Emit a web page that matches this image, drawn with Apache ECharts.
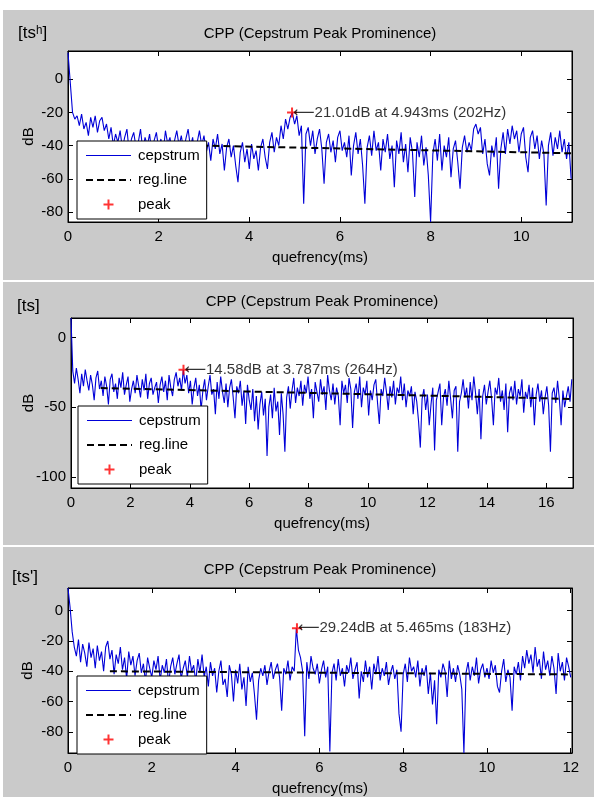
<!DOCTYPE html>
<html>
<head>
<meta charset="utf-8">
<script src="https://cdn.jsdelivr.net/npm/echarts@6/dist/echarts.min.js"></script>
<style>html,body{margin:0;padding:0;background:#fff}#c{width:594px;height:797px}</style>
</head>
<body>
<div id="c"></div>
<script>
// ---------------- DATA ----------------
const panelLabels = ['[ts\u02B0]', '[ts]', "[ts']"];
const chartTitle = 'CPP (Cepstrum Peak Prominence)';
const seriesNames = ['cepstrum', 'reg.line', 'peak'];

// Panel 1 [tsʰ]
const p1Step = 0.05;
const p1Cep = [16,-2,-20,-24,-22,-28,-21,-30,-26,-34,
-23,-29,-22,-32,-25,-23,-31,-27,-36,-29,
-40,-33,-38,-31,-42,-35,-30,-44,-36,-32,
-41,-38,-30,-43,-35,-40,-33,-45,-37,-32,
-42,-36,-44,-31,-39,-35,-46,-37,-31,-40,
-34,-43,-36,-30,-41,-35,-47,-38,-31,-40,
-34,-44,-38,-49,-36,-42,-33,-45,-39,-55,
-41,-36,-47,-40,-52,-62,-44,-38,-50,-42,
-54,-39,-48,-43,-55,-41,-36,-47,-54,-38,
-32,-44,-35,-40,-28,-36,-24,-30,-23,-20.1,
-27,-22,-34,-28,-75,-33,-29,-40,-31,-45,
-36,-30,-42,-63,-38,-33,-44,-37,-50,-35,
-31,-43,-38,-47,-34,-58,-40,-32,-45,-36,
-52,-75,-41,-34,-46,-31,-43,-38,-55,-36,
-44,-33,-48,-40,-65,-37,-45,-32,-50,-39,
-56,-35,-44,-71,-38,-47,-34,-52,-41,-58,
-86,-45,-36,-49,-33,-55,-40,-47,-35,-59,
-42,-37,-50,-66,-41,-34,-44,-38,-43,-30,
-27,-33,-29,-45,-36,-51,-58,-40,-47,-35,
-66,-42,-32,-45,-30,-39,-28,-36,-31,-44,
-33,-29,-47,-56,-35,-31,-42,-34,-48,-37,
-45,-76,-40,-32,-46,-35,-42,-31,-44,-36,
-48,-38,-60];
const p1Reg = [[1.0, -38.9], [11.1, -44.6]];
const p1Peak = [4.943, -20.1];
const p1Note = '\u27F521.01dB at 4.943ms (202Hz)';
const p1XTicks = [0, 2, 4, 6, 8, 10];
const p1YTicks = [-80, -60, -40, -20, 0];
const p1Range = {xmax: 11.12, ymin: -86, ymax: 17};

// Panel 2 [ts]
const p2Step = 0.06;
const p2Cep = [14,-24,-33,-22,-30,-40,-26,-35,-23,-31,
-38,-27,-34,-45,-29,-24,-37,-31,-42,-28,
-35,-48,-30,-26,-39,-33,-44,-29,-36,-25,
-41,-34,-28,-46,-37,-31,-40,-27,-35,-43,
-30,-38,-26,-44,-33,-29,-41,-36,-32,-47,
-34,-28,-39,-31,-45,-27,-36,-42,-30,-25,
-35,-29,-38,-23.1,-33,-27,-40,-31,-48,-36,
-29,-42,-34,-52,-38,-30,-45,-35,-27,-41,
-37,-55,-32,-44,-28,-39,-47,-33,-50,-36,
-30,-43,-58,-35,-40,-31,-49,-38,-62,-34,
-45,-52,-37,-60,-42,-66,-48,-39,-56,-44,
-85,-50,-41,-58,-36,-53,-46,-70,-40,-55,
-82,-43,-35,-51,-38,-29,-47,-36,-42,-31,
-49,-34,-40,-28,-44,-37,-58,-32,-39,-46,
-30,-41,-35,-52,-27,-38,-45,-33,-48,-36,
-42,-63,-31,-40,-34,-47,-29,-37,-65,-39,
-33,-44,-28,-50,-36,-41,-31,-56,-38,-45,
-34,-30,-47,-62,-37,-42,-29,-39,-52,-35,
-43,-31,-48,-36,-40,-28,-45,-33,-50,-38,
-42,-35,-55,-39,-46,-60,-79,-44,-37,-52,
-41,-63,-48,-36,-81,-45,-39,-33,-63,-43,
-37,-49,-31,-44,-58,-38,-35,-82,-46,-40,
-30,-43,-36,-51,-32,-45,-28,-40,-55,-37,
-73,-42,-34,-48,-39,-31,-44,-63,-36,-41,
-29,-46,-38,-52,-33,-68,-40,-35,-45,-31,
-48,-37,-42,-30,-54,-39,-44,-34,-50,-36,
-63,-41,-33,-46,-38,-55,-43,-35,-49,-82,
-40,-36,-47,-31,-44,-63,-38,-50,-42,-35,
-46,-30];
const p2Reg = [[1.0, -36.3], [16.9, -44.1]];
const p2Peak = [3.787, -23.1];
const p2Note = '\u27F514.58dB at 3.787ms (264Hz)';
const p2XTicks = [0, 2, 4, 6, 8, 10, 12, 14, 16];
const p2YTicks = [-100, -50, 0];
const p2Range = {xmax: 16.9, ymin: -108, ymax: 14};

// Panel 3 [ts']
const p3Step = 0.05;
const p3Cep = [15,2,-14,-24,-30,-19,-34,-22,-28,-37,
-21,-31,-25,-38,-23,-33,-27,-40,-24,-20,
-32,-26,-42,-29,-35,-24,-39,-31,-45,-27,
-36,-30,-43,-33,-28,-41,-35,-47,-31,-38,
-44,-33,-39,-30,-46,-36,-41,-32,-48,-37,
-31,-42,-35,-29,-45,-38,-33,-44,-30,-40,
-36,-47,-32,-41,-29,-44,-37,-50,-34,-43,
-38,-54,-40,-33,-49,-45,-57,-36,-42,-60,
-39,-48,-35,-52,-44,-63,-37,-47,-41,-55,
-72,-46,-38,-43,-36,-49,-40,-34,-45,-39,
-35,-44,-66,-38,-42,-33,-46,-37,-40,-11.6,
-26,-31,-40,-83,-34,-45,-30,-38,-42,-35,
-48,-39,-33,-44,-37,-93,-41,-35,-46,-32,
-43,-38,-50,-36,-41,-31,-45,-39,-34,-58,
-40,-47,-33,-44,-37,-52,-35,-42,-30,-46,
-38,-43,-34,-49,-41,-36,-45,-39,-68,-80,
-42,-35,-47,-31,-40,-37,-44,-33,-50,-38,
-43,-36,-55,-41,-62,-46,-75,-39,-44,-35,
-40,-57,-33,-45,-38,-47,-36,-42,-52,-94,
-41,-34,-46,-37,-43,-31,-48,-39,-35,-44,
-38,-45,-33,-41,-36,-50,-54,-40,-32,-47,
-39,-44,-66,-37,-42,-34,-46,-30,-38,-26,
-35,-29,-41,-24,-37,-32,-45,-27,-39,-33,
-43,-30,-38,-55,-28,-40,-34,-46,-31,-37,
-44];
const p3Reg = [[1.0, -40.0], [12.03, -42.1]];
const p3Peak = [5.465, -11.6];
const p3Note = '\u27F529.24dB at 5.465ms (183Hz)';
const p3XTicks = [0, 2, 4, 6, 8, 10, 12];
const p3YTicks = [-80, -60, -40, -20, 0];
const p3Range = {xmax: 12.03, ymin: -94, ymax: 15};

// ---------------- BUILD ----------------
const FONT = '"Liberation Sans", Arial, Helvetica, "DejaVu Sans", sans-serif';
const PLUS = 'path://M4,0H6V4H10V6H6V10H4V6H0V4H4Z';

const panels = [
  {cep: p1Cep, step: p1Step, reg: p1Reg, peak: p1Peak, note: p1Note, xt: p1XTicks, yt: p1YTicks, r: p1Range,
   grid: {left: 68, top: 51, width: 504, height: 171}, legend: {left: 77, top: 141}, yGap: 32,
   title: {x: 320, y: 34}, label: {x: 18, y: 33}},
  {cep: p2Cep, step: p2Step, reg: p2Reg, peak: p2Peak, note: p2Note, xt: p2XTicks, yt: p2YTicks, r: p2Range,
   grid: {left: 71, top: 318, width: 502, height: 170}, legend: {left: 78, top: 406}, yGap: 35,
   title: {x: 322, y: 302}, label: {x: 17, y: 306}},
  {cep: p3Cep, step: p3Step, reg: p3Reg, peak: p3Peak, note: p3Note, xt: p3XTicks, yt: p3YTicks, r: p3Range,
   grid: {left: 68, top: 588, width: 504, height: 169}, legend: {left: 77, top: 676}, yGap: 33,
   title: {x: 320, y: 570}, label: {x: 12, y: 577}}
];

const grids = [], xAxes = [], yAxes = [], series = [], legends = [];
const graphics = [
  {type: 'rect', shape: {x: 0, y: 0, width: 594, height: 10}, style: {fill: '#fff'}, silent: true},
  {type: 'rect', shape: {x: 0, y: 0, width: 3, height: 797}, style: {fill: '#fff'}, silent: true},
  {type: 'rect', shape: {x: 0, y: 280, width: 594, height: 2}, style: {fill: '#fff'}, silent: true},
  {type: 'rect', shape: {x: 0, y: 545, width: 594, height: 2}, style: {fill: '#fff'}, silent: true}
];

const txt = {color: '#000', fontSize: 15, fontFamily: FONT};
const BLUE = '#0000d8';

panels.forEach((p, g) => {
  grids.push(Object.assign({show: true, backgroundColor: '#fff', borderColor: '#000', borderWidth: 1, containLabel: false}, p.grid));
  const axLine = {show: true, onZero: false, lineStyle: {color: '#000', width: 1}};
  const tick = (vals) => ({show: true, inside: true, length: 5, customValues: vals, lineStyle: {color: '#000', width: 1}});
  xAxes.push({type: 'value', gridIndex: g, position: 'bottom', min: 0, max: p.r.xmax,
    axisLine: axLine, axisTick: tick(p.xt), splitLine: {show: false},
    axisLabel: Object.assign({show: true, customValues: p.xt, margin: 7}, txt),
    name: 'quefrency(ms)', nameLocation: 'middle', nameGap: 28, nameMoveOverlap: false, nameTextStyle: txt});
  xAxes.push({type: 'value', gridIndex: g, position: 'top', min: 0, max: p.r.xmax,
    axisLine: axLine, axisTick: tick(p.xt), splitLine: {show: false}, axisLabel: {show: false}});
  yAxes.push({type: 'value', gridIndex: g, position: 'left', min: p.r.ymin, max: p.r.ymax,
    axisLine: axLine, axisTick: tick(p.yt), splitLine: {show: false},
    axisLabel: Object.assign({show: true, customValues: p.yt, margin: 5}, txt),
    name: 'dB', nameLocation: 'middle', nameGap: p.yGap, nameRotate: 90, nameMoveOverlap: false, nameTextStyle: txt});
  yAxes.push({type: 'value', gridIndex: g, position: 'right', min: p.r.ymin, max: p.r.ymax,
    axisLine: axLine, axisTick: tick(p.yt), splitLine: {show: false}, axisLabel: {show: false}});

  series.push({name: 'cepstrum', type: 'line', xAxisIndex: 2 * g, yAxisIndex: 2 * g,
    data: p.cep.map((v, i) => [i * p.step, v]), symbol: 'none', showSymbol: false,
    lineStyle: {color: BLUE, width: 1.1}, itemStyle: {color: BLUE}, animation: false, z: 2});
  series.push({name: 'reg.line', type: 'line', xAxisIndex: 2 * g, yAxisIndex: 2 * g,
    data: p.reg, symbol: 'none', showSymbol: false,
    lineStyle: {color: '#000', width: 2, type: [7, 4]}, itemStyle: {color: '#000'}, animation: false, z: 3});
  series.push({name: 'peak', type: 'scatter', xAxisIndex: 2 * g, yAxisIndex: 2 * g,
    data: [p.peak], symbol: PLUS, symbolSize: 10, itemStyle: {color: '#ff0000'}, animation: false, z: 4,
    label: Object.assign({show: true, position: 'right', distance: -4, formatter: p.note}, txt)});

  legends.push({left: p.legend.left, top: p.legend.top, orient: 'vertical', selectedMode: false,
    padding: [7, 7, 7, 8], itemWidth: 45, itemHeight: 10, itemGap: 9.5,
    backgroundColor: '#fff', borderColor: '#000', borderWidth: 1, borderRadius: 0, z: 10,
    textStyle: Object.assign({lineHeight: 14, padding: [0, 0, 0, 2]}, txt),
    data: [
      {name: seriesNames[0], lineStyle: {width: 1, color: BLUE}, itemStyle: {opacity: 0}},
      {name: seriesNames[1], lineStyle: {width: 2, type: [7, 4], color: '#000'}, itemStyle: {opacity: 0}},
      {name: seriesNames[2], icon: PLUS, itemStyle: {color: '#ff0000'}}
    ]});

  graphics.push({type: 'text', x: p.title.x, y: p.title.y, silent: true,
    style: {text: chartTitle, fill: '#000', font: '15px ' + FONT, align: 'center', verticalAlign: 'middle'}});
  graphics.push({type: 'text', x: p.label.x, y: p.label.y, silent: true,
    style: {text: panelLabels[g], fill: '#000', font: '17px ' + FONT, align: 'left', verticalAlign: 'middle'}});
});

const chart = echarts.init(document.getElementById('c'), null, {renderer: 'canvas'});
chart.setOption({
  backgroundColor: '#cacaca',
  animation: false,
  grid: grids, xAxis: xAxes, yAxis: yAxes, series: series, legend: legends,
  graphic: graphics
});
</script>
</body>
</html>
